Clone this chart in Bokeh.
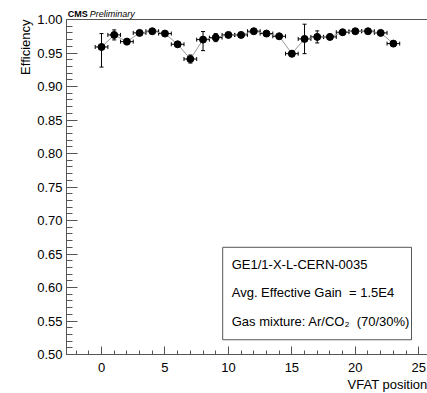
from bokeh.plotting import figure
from bokeh.models import (ColumnDataSource, Whisker, TeeHead, Label, BoxAnnotation,
                          SingleIntervalTicker, Range1d, Span,
                          PrintfTickFormatter, Title)
from bokeh.embed import file_html
from bokeh.resources import INLINE

# ---- data ----
vfat = list(range(24))
eff = [0.959, 0.977, 0.967, 0.980, 0.9825, 0.979, 0.963, 0.941,
       0.970, 0.973, 0.977, 0.977, 0.9825, 0.979, 0.975, 0.949,
       0.971, 0.974, 0.974, 0.981, 0.9825, 0.9825, 0.980, 0.964]
err_up = [0.020, 0.0075, 0.0045, 0.003, 0.002, 0.002, 0.003, 0.006,
          0.012, 0.006, 0.003, 0.002, 0.002, 0.002, 0.003, 0.0045,
          0.022, 0.009, 0.004, 0.002, 0.002, 0.002, 0.002, 0.002]
err_dn = [0.030, 0.0075, 0.0045, 0.003, 0.002, 0.002, 0.003, 0.006,
          0.0165, 0.006, 0.003, 0.002, 0.002, 0.002, 0.003, 0.0045,
          0.022, 0.009, 0.004, 0.002, 0.002, 0.002, 0.002, 0.002]
bin_half = 0.5

x_title = "VFAT position"
y_title = "Efficiency"
info_lines = ["GE1/1-X-L-CERN-0035", "Avg. Effective Gain \u00a0= 1.5E4",
              "Gas mixture: Ar/CO\u2082 \u00a0(70/30%)"]

FONT = "Liberation Sans"
Y_MIN, Y_MAX = 0.5, 1.0
PX = (Y_MAX - Y_MIN) / 335.0          # data units per pixel in y
HEADROOM = 19 * PX                     # room above the frame for the header

src = ColumnDataSource(dict(
    x=vfat, y=eff,
    ylo=[e - d for e, d in zip(eff, err_dn)],
    yhi=[e + u for e, u in zip(eff, err_up)],
    xlo=[v - bin_half for v in vfat],
    xhi=[v + bin_half for v in vfat],
))

p = figure(width=427, height=393, x_range=Range1d(-2.76, 25.69),
           y_range=Range1d(Y_MIN, Y_MAX + HEADROOM), output_backend="svg",
           toolbar_location=None, min_border_left=66, min_border_right=0,
           min_border_top=0, min_border_bottom=39)
p.xgrid.visible = False
p.ygrid.visible = False
p.outline_line_color = None
p.background_fill_color = "white"
p.border_fill_color = "white"

AX = "#555555"
xa = p.xaxis[0]
xa.ticker = SingleIntervalTicker(interval=5, num_minor_ticks=5)
xa.formatter = PrintfTickFormatter(format="%d")
xa.major_tick_in = 8
xa.major_tick_out = 0
xa.minor_tick_in = 4
xa.minor_tick_out = 0
xa.major_label_standoff = 8
ya = p.yaxis[0]
ya.ticker = SingleIntervalTicker(interval=0.05, num_minor_ticks=5)
ya.formatter = PrintfTickFormatter(format="%.2f")
ya.bounds = (Y_MIN, Y_MAX)
ya.major_tick_in = 11
ya.major_tick_out = 0
ya.minor_tick_in = 6
ya.minor_tick_out = 0
ya.major_label_standoff = 4
for ax in (xa, ya):
    ax.axis_line_color = AX
    ax.major_tick_line_color = AX
    ax.minor_tick_line_color = AX
    ax.major_label_text_font = FONT
    ax.major_label_text_font_size = "13px"
    ax.major_label_text_color = "black"

# top edge of the frame
p.add_layout(Span(location=Y_MAX, dimension="width", line_color=AX, line_width=1))

# axis titles (ROOT style: at the far end of each axis)
p.add_layout(Title(text=x_title, align="right", text_font=FONT,
                   text_font_size="13px", text_font_style="normal",
                   text_color="black", standoff=0, offset=0), "below")
p.add_layout(Title(text=y_title, align="right", text_font=FONT,
                   text_font_size="13px", text_font_style="normal",
                   text_color="black", standoff=3, offset=19), "left")

# connecting line
p.line("x", "y", source=src, line_color="#999999", line_width=1)
# error bars
p.add_layout(Whisker(source=src, base="x", lower="ylo", upper="yhi",
                     dimension="height", line_color="black", line_width=1,
                     lower_head=TeeHead(size=4, line_color="black"),
                     upper_head=TeeHead(size=4, line_color="black")))
p.add_layout(Whisker(source=src, base="y", lower="xlo", upper="xhi",
                     dimension="width", line_color="black", line_width=1,
                     lower_head=TeeHead(size=4, line_color="black"),
                     upper_head=TeeHead(size=4, line_color="black")))
p.scatter("x", "y", source=src, size=7, fill_color="black", line_color="black")

# info box
p.add_layout(BoxAnnotation(left=9.55, right=24.43, bottom=0.522, top=0.66,
                           fill_color="white", fill_alpha=1.0,
                           line_color="#555555", line_width=1, line_alpha=1.0))
for txt, yy in zip(info_lines, [0.6343, 0.5925, 0.5493]):
    p.add_layout(Label(x=10.26, y=yy, text=txt, text_font=FONT,
                       text_font_size="13px", text_color="black",
                       text_baseline="middle", text_align="left"))

# CMS Preliminary header
p.add_layout(Label(x=-2.654, y=Y_MAX + 6 * PX, text="CMS", text_font=FONT,
                   text_font_size="9px", text_font_style="bold",
                   text_color="black", text_baseline="alphabetic"))
p.add_layout(Label(x=-0.92, y=Y_MAX + 6 * PX, text="Preliminary",
                   text_font=FONT, text_font_size="9px",
                   text_font_style="italic", text_color="black",
                   text_baseline="alphabetic"))

open("out.html", "w").write(file_html(p, INLINE))
